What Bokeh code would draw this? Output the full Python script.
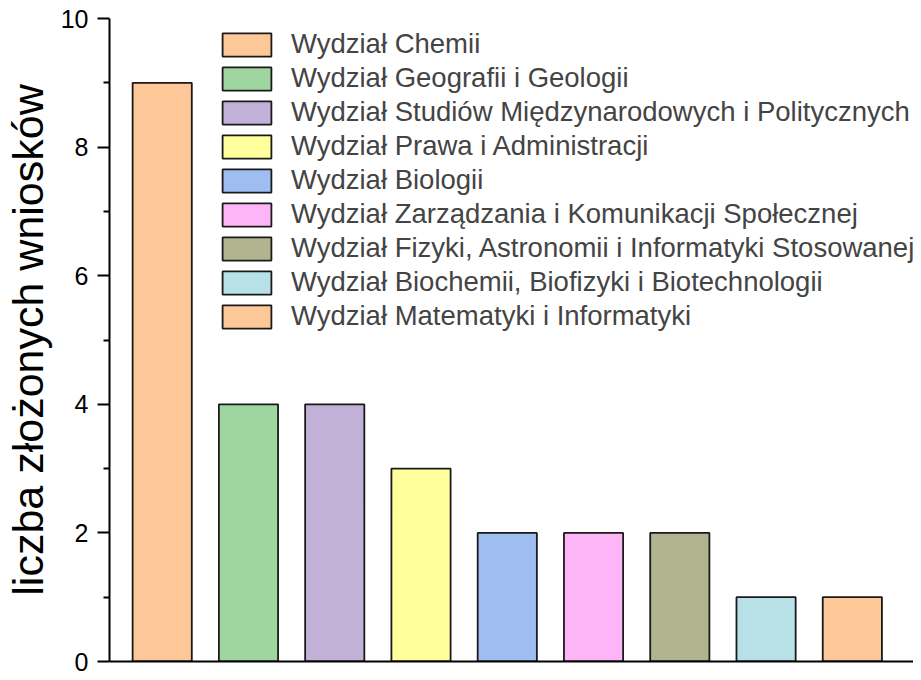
from bokeh.plotting import figure
from bokeh.models import ColumnDataSource, Range1d, FixedTicker, Legend, LegendItem
from bokeh.embed import file_html
from bokeh.resources import INLINE

faculties = [
    "Wydział Chemii",
    "Wydział Geografii i Geologii",
    "Wydział Studiów Międzynarodowych i Politycznych",
    "Wydział Prawa i Administracji",
    "Wydział Biologii",
    "Wydział Zarządzania i Komunikacji Społecznej",
    "Wydział Fizyki, Astronomii i Informatyki Stosowanej",
    "Wydział Biochemii, Biofizyki i Biotechnologii",
    "Wydział Matematyki i Informatyki",
]
counts = [9, 4, 4, 3, 2, 2, 2, 1, 1]
colors = ["#FDC797", "#9FD59E", "#C1B1D8", "#FFFF9B", "#9EBDF1",
          "#FDB5F7", "#B1B48F", "#B7E1E7", "#FDC797"]
y_ticks = [0, 2, 4, 6, 8, 10]
y_minor = [1, 3, 5, 7, 9]

FONT = "Liberation Sans"

p = figure(width=913, height=672, output_backend="svg", toolbar_location=None,
           x_range=Range1d(0.389, 9.709), y_range=Range1d(0, 10),
           min_border_left=109, min_border_right=0, min_border_top=18,
           min_border_bottom=11)
p.grid.visible = False
p.outline_line_color = None
p.background_fill_color = "white"
p.border_fill_color = "white"

xs = list(range(1, len(counts) + 1))
items = []
for i, (name, c, col) in enumerate(zip(faculties, counts, colors)):
    src = ColumnDataSource(dict(x=[xs[i]], top=[c]))
    r = p.vbar(x="x", top="top", bottom=0, width=0.686, source=src,
               fill_color=col, line_color="#1a1a1a", line_width=1.8)
    items.append(LegendItem(label=name, renderers=[r]))

legend = Legend(items=items, location=(107, 329), orientation="vertical",
                glyph_width=61, glyph_height=29, spacing=2, padding=0, margin=0,
                label_text_font=FONT, label_text_font_size="27.5px",
                label_standoff=14, border_line_color=None,
                background_fill_alpha=0, label_height=29)
p.add_layout(legend, "center")

# y axis
ya = p.yaxis[0]
ya.ticker = FixedTicker(ticks=y_ticks, minor_ticks=y_minor)
ya.axis_line_width = 2
ya.axis_line_color = "black"
ya.major_tick_line_width = 2
ya.minor_tick_line_width = 2
ya.major_tick_in = 0
ya.major_tick_out = 12
ya.minor_tick_in = 0
ya.minor_tick_out = 6
ya.major_label_text_font = FONT
ya.major_label_text_font_size = "25px"
ya.major_label_text_color = "black"
ya.major_label_standoff = 9
ya.axis_label = "liczba złożonych wniosków"
ya.axis_label_text_font = FONT
ya.axis_label_text_font_size = "43px"
ya.axis_label_text_font_style = "normal"
ya.axis_label_text_color = "black"
ya.axis_label_standoff = 6

# x axis: line only
xa = p.xaxis[0]
xa.ticker = FixedTicker(ticks=[])
xa.axis_line_width = 2
xa.axis_line_color = "black"
xa.major_tick_line_color = None
xa.minor_tick_line_color = None
xa.major_tick_in = 0
xa.major_tick_out = 0
xa.major_label_standoff = 0
xa.major_label_text_font_size = "0px"

open("out.html", "w").write(file_html(p, INLINE))
